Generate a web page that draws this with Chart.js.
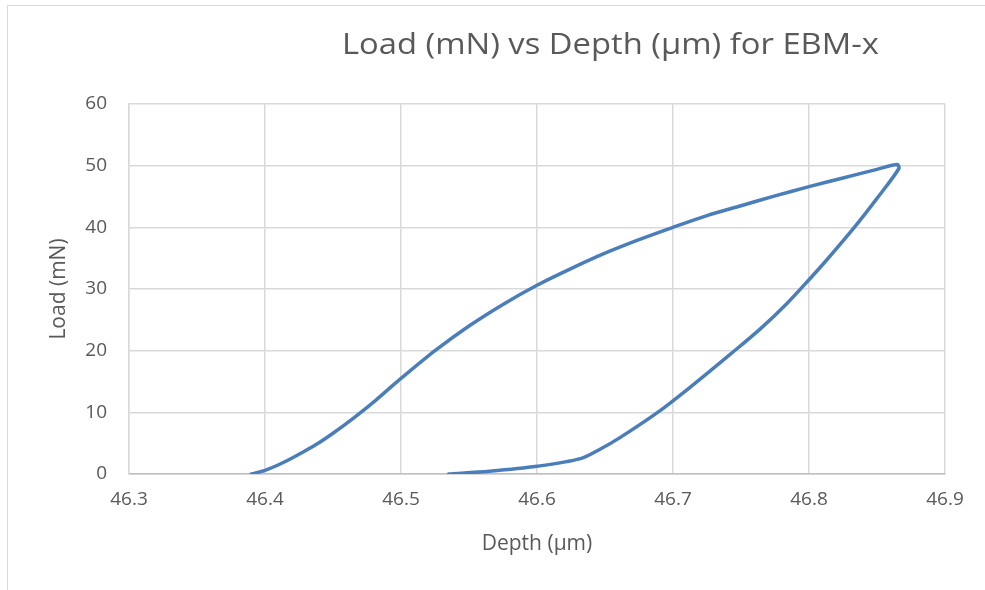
<!DOCTYPE html>
<html>
<head>
<meta charset="utf-8">
<title>Load vs Depth</title>
<script src="https://cdn.jsdelivr.net/npm/chart.js@4.4.1/dist/chart.umd.min.js"></script>
<style>
    html, body { margin: 0; padding: 0; background: #ffffff; overflow: hidden; }
    #wrap { position: relative; width: 985px; height: 590px; }
    #frame {
        position: absolute; left: 7px; top: 5px; width: 1200px; height: 800px;
        border-top: 1.5px solid #d9d9d9; border-left: 1.5px solid #d9d9d9;
    }
    #chart { position: absolute; left: 0; top: 0; }
</style>
</head>
<body>
<div id="wrap">
    <div id="frame"></div>
    <canvas id="chart" width="985" height="590"></canvas>
</div>
<script>
    // loading branch (depth in um, load in mN)
    const loadingDepth = [46.390, 46.400, 46.410, 46.420, 46.430, 46.440, 46.450, 46.460, 46.470, 46.480,
        46.490, 46.500, 46.525, 46.550, 46.575, 46.600, 46.625, 46.650, 46.675, 46.700,
        46.725, 46.750, 46.775, 46.800, 46.825, 46.850, 46.865];
    const loadingForce = [0, 0.6, 1.5, 2.6, 3.8, 5.1, 6.6, 8.2, 9.9, 11.7,
        13.6, 15.5, 20.0, 24.0, 27.5, 30.6, 33.3, 35.8, 38.0, 40.0,
        41.9, 43.5, 45.1, 46.6, 48.0, 49.4, 50.2];

    // unloading branch
    const unloadingDepth = [46.866, 46.850, 46.833, 46.813, 46.800, 46.784, 46.764, 46.742, 46.715, 46.690,
        46.661, 46.647, 46.632, 46.600, 46.565, 46.535];
    const unloadingForce = [49.5, 44.7, 39.9, 34.7, 31.5, 27.7, 23.5, 19.4, 14.5, 10.2,
        5.9, 4.1, 2.5, 1.25, 0.45, 0];

    const xTickValues = [46.3, 46.4, 46.5, 46.6, 46.7, 46.8, 46.9];
    const yTickValues = [0, 10, 20, 30, 40, 50, 60];

    const chartTitle = "Load (mN) vs Depth (\u00b5m) for EBM-x";
    const xTitle = "Depth (\u00b5m)";
    const yTitle = "Load (mN)";

    const textColor = "#595959";
    const gridColor = "#d9d9d9";
    const lineColor = "#4a7ebb";
    const fontFamily = "'Open Sans', 'Noto Sans', sans-serif";

    function toPoints(xs, ys) {
        return xs.map(function (x, i) { return { x: x, y: ys[i] }; });
    }

    // title is drawn by hand so it can sit right of the plot centre,
    // stretched to the width of the narrower office font
    const titlePlugin = {
        id: "offsetTitle",
        afterDraw: function (chart) {
            const ctx = chart.ctx;
            const area = chart.chartArea;
            ctx.save();
            ctx.font = "30px " + fontFamily;
            ctx.fillStyle = textColor;
            ctx.textBaseline = "alphabetic";
            ctx.textAlign = "center";
            const cx = area.left + (area.right - area.left) * 0.59;
            const w = ctx.measureText(chartTitle).width;
            ctx.translate(cx, 54);
            ctx.scale(537 / w, 1);
            ctx.fillText(chartTitle, 0, 0);
            ctx.restore();
        }
    };

    const data = toPoints(loadingDepth, loadingForce).concat(toPoints(unloadingDepth, unloadingForce));

    new Chart(document.getElementById("chart"), {
        type: "scatter",
        data: {
            datasets: [{
                data: data,
                showLine: true,
                borderColor: lineColor,
                backgroundColor: lineColor,
                borderWidth: 3.5,
                borderCapStyle: "round",
                borderJoinStyle: "round",
                tension: 0.3,
                pointRadius: 0,
                pointHoverRadius: 0
            }]
        },
        options: {
            responsive: false,
            animation: false,
            devicePixelRatio: 1,
            layout: { padding: { top: 104, right: 40, bottom: 0, left: 0 } },
            plugins: {
                legend: { display: false },
                tooltip: { enabled: false },
                title: { display: false }
            },
            scales: {
                x: {
                    type: "linear",
                    min: 46.3,
                    max: 46.9,
                    afterBuildTicks: function (scale) {
                        scale.ticks = xTickValues.map(function (v) { return { value: v }; });
                    },
                    afterFit: function (scale) { scale.height = 116; },
                    ticks: {
                        color: textColor,
                        font: { family: fontFamily, size: 19 },
                        padding: 14,
                        maxRotation: 0,
                        callback: function (v) { return v.toFixed(1); }
                    },
                    grid: { color: gridColor, lineWidth: 1.5, drawTicks: false },
                    border: { display: true, color: "#bfbfbf", width: 1.5 },
                    title: {
                        display: true,
                        text: xTitle,
                        color: textColor,
                        font: { family: fontFamily, size: 21 },
                        padding: { top: 0, bottom: 33 }
                    }
                },
                y: {
                    min: 0,
                    max: 60,
                    afterBuildTicks: function (scale) {
                        scale.ticks = yTickValues.map(function (v) { return { value: v }; });
                    },
                    afterFit: function (scale) { scale.width = 129; },
                    ticks: {
                        color: textColor,
                        font: { family: fontFamily, size: 19 },
                        padding: 22
                    },
                    grid: { color: gridColor, lineWidth: 1.5, drawTicks: false },
                    border: { display: true, color: gridColor, width: 1.5 },
                    title: {
                        display: true,
                        text: yTitle,
                        color: textColor,
                        font: { family: fontFamily, size: 21 },
                        padding: { top: 46, bottom: 0 }
                    }
                }
            }
        },
        plugins: [titlePlugin]
    });
</script>
</body>
</html>
